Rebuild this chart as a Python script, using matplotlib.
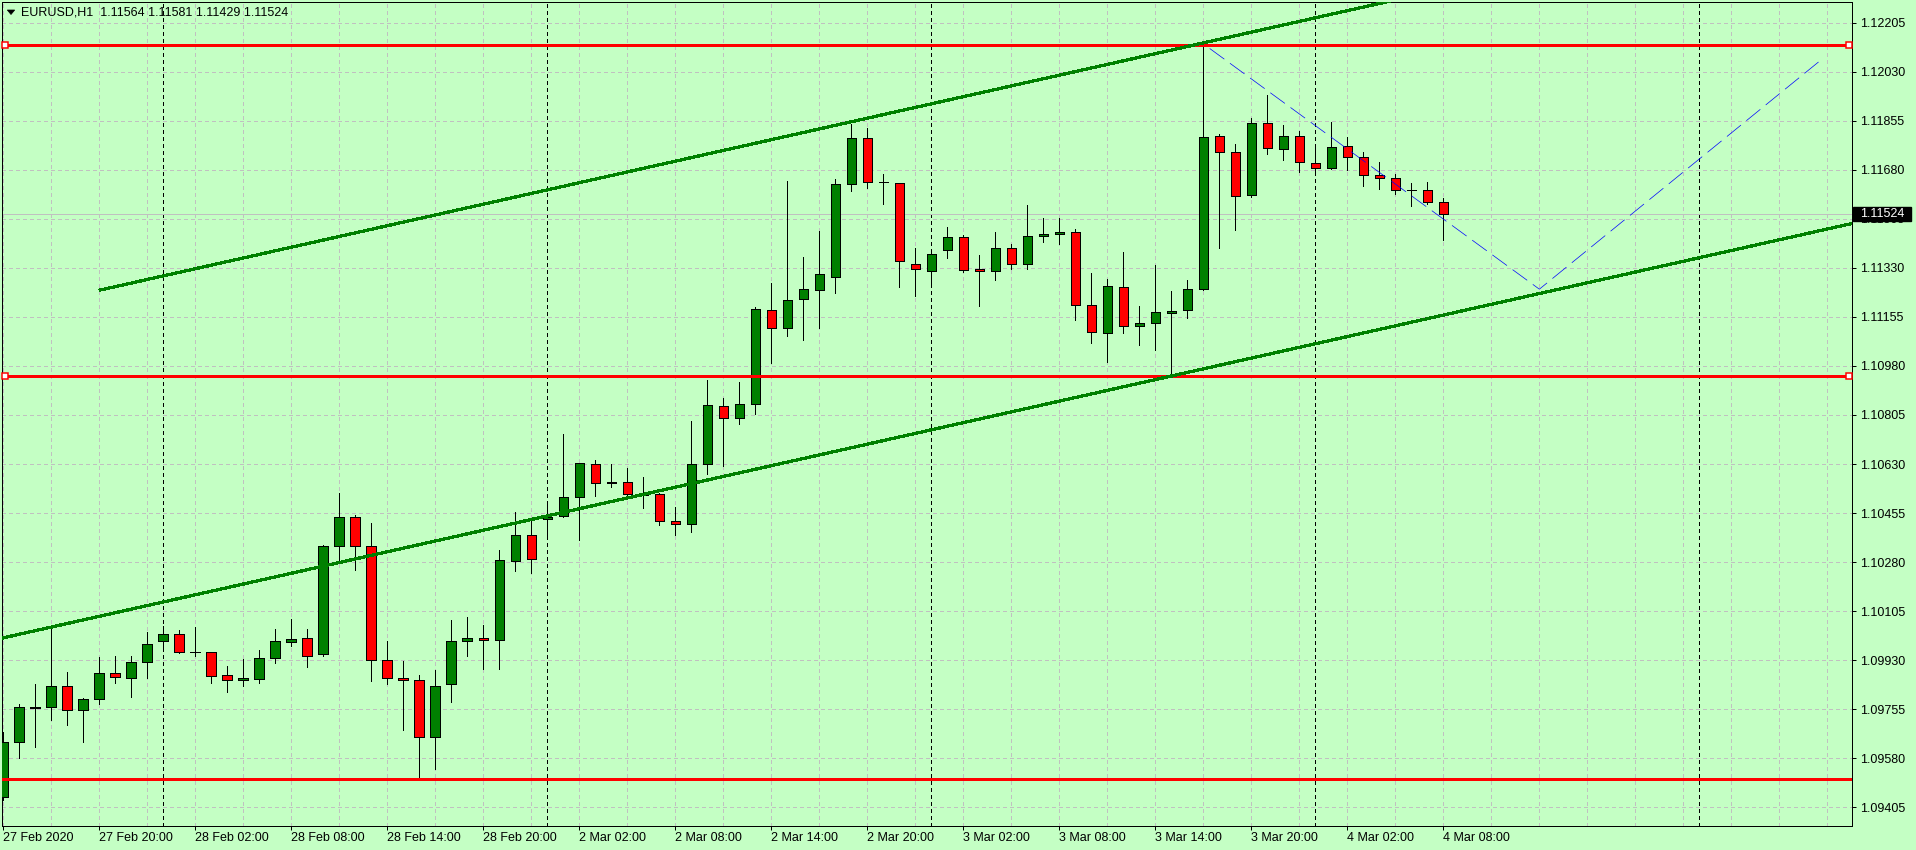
import matplotlib
matplotlib.use("Agg")
import matplotlib.pyplot as plt
from matplotlib.patches import Rectangle, Polygon
from matplotlib.transforms import blended_transform_factory

# ------------------------------------------------------------
# data: EURUSD H1, 27 Feb 2020 14:00 .. 4 Mar 2020 08:00
# ------------------------------------------------------------
symbol = "EURUSD,H1"

opens = [
    1.09443, 1.09639, 1.09760, 1.09762, 1.09837, 1.09751, 1.09790, 1.09883, 1.09868, 1.09923,
    1.09998, 1.10023, 1.09958, 1.09958, 1.09876, 1.09858, 1.09864, 1.09936, 1.09993, 1.10008,
    1.09951, 1.10336, 1.10440, 1.10336, 1.09930, 1.09866, 1.09859, 1.09655, 1.09844, 1.09998,
    1.10008, 1.10001, 1.10283, 1.10376, 1.10432, 1.10444, 1.10511, 1.10629, 1.10561, 1.10565,
    1.10522, 1.10522, 1.10428, 1.10415, 1.10629, 1.10837, 1.10793, 1.10843, 1.11179, 1.11117,
    1.11218, 1.11251, 1.11297, 1.11628, 1.11792, 1.11635, 1.11632, 1.11343, 1.11318, 1.11393,
    1.11439, 1.11326, 1.11318, 1.11400, 1.11343, 1.11443, 1.11450, 1.11457, 1.11197, 1.11097,
    1.11261, 1.11122, 1.11132, 1.11168, 1.11179, 1.11254, 1.11800, 1.11743, 1.11589, 1.11846,
    1.11753, 1.11800, 1.11703, 1.11685, 1.11764, 1.11725, 1.11660, 1.11650, 1.11607, 1.11607,
    1.11564,
]
highs = [
    1.09675, 1.09774, 1.09844, 1.10056, 1.09888, 1.09794, 1.09940, 1.09945, 1.09945, 1.10030,
    1.10051, 1.10038, 1.10049, 1.09960, 1.09909, 1.09934, 1.09966, 1.10041, 1.10077, 1.10041,
    1.10340, 1.10526, 1.10448, 1.10419, 1.09999, 1.09927, 1.09877, 1.09895, 1.10074, 1.10084,
    1.10056, 1.10323, 1.10458, 1.10430, 1.10483, 1.10737, 1.10635, 1.10645, 1.10629, 1.10616,
    1.10583, 1.10525, 1.10477, 1.10783, 1.10930, 1.10865, 1.10922, 1.11192, 1.11275, 1.11639,
    1.11369, 1.11462, 1.11647, 1.11844, 1.11829, 1.11665, 1.11632, 1.11401, 1.11388, 1.11475,
    1.11447, 1.11376, 1.11458, 1.11415, 1.11554, 1.11508, 1.11508, 1.11469, 1.11311, 1.11290,
    1.11386, 1.11194, 1.11339, 1.11246, 1.11286, 1.12131, 1.11807, 1.11771, 1.11864, 1.11946,
    1.11839, 1.11817, 1.11771, 1.11852, 1.11797, 1.11743, 1.11707, 1.11664, 1.11632, 1.11635,
    1.11581,
]
lows = [
    1.09431, 1.09582, 1.09621, 1.09717, 1.09699, 1.09639, 1.09774, 1.09850, 1.09800, 1.09868,
    1.09978, 1.09955, 1.09943, 1.09850, 1.09818, 1.09836, 1.09850, 1.09918, 1.09982, 1.09907,
    1.09946, 1.10284, 1.10252, 1.09857, 1.09845, 1.09681, 1.09503, 1.09542, 1.09782, 1.09946,
    1.09899, 1.09900, 1.10249, 1.10240, 1.10364, 1.10440, 1.10357, 1.10517, 1.10547, 1.10508,
    1.10474, 1.10414, 1.10378, 1.10389, 1.10596, 1.10624, 1.10772, 1.10808, 1.10992, 1.11088,
    1.11074, 1.11116, 1.11242, 1.11605, 1.11616, 1.11559, 1.11263, 1.11231, 1.11263, 1.11366,
    1.11316, 1.11195, 1.11286, 1.11327, 1.11325, 1.11421, 1.11416, 1.11145, 1.11063, 1.10995,
    1.11097, 1.11056, 1.11038, 1.10944, 1.11150, 1.11250, 1.11402, 1.11466, 1.11582, 1.11738,
    1.11714, 1.11671, 1.11671, 1.11684, 1.11680, 1.11621, 1.11611, 1.11593, 1.11550, 1.11559,
    1.11429,
]
closes = [
    1.09639, 1.09762, 1.09762, 1.09837, 1.09751, 1.09790, 1.09883, 1.09869, 1.09923, 1.09987,
    1.10023, 1.09958, 1.09959, 1.09873, 1.09858, 1.09865, 1.09937, 1.09998, 1.10005, 1.09946,
    1.10336, 1.10440, 1.10336, 1.09930, 1.09866, 1.09859, 1.09657, 1.09837, 1.09998, 1.10008,
    1.10001, 1.10287, 1.10376, 1.10290, 1.10440, 1.10511, 1.10633, 1.10561, 1.10565, 1.10522,
    1.10519, 1.10428, 1.10415, 1.10629, 1.10839, 1.10793, 1.10843, 1.11182, 1.11117, 1.11214,
    1.11254, 1.11307, 1.11628, 1.11792, 1.11635, 1.11637, 1.11354, 1.11325, 1.11379, 1.11439,
    1.11321, 1.11318, 1.11400, 1.11343, 1.11443, 1.11450, 1.11457, 1.11197, 1.11100, 1.11264,
    1.11122, 1.11132, 1.11172, 1.11176, 1.11254, 1.11796, 1.11743, 1.11586, 1.11846, 1.11757,
    1.11800, 1.11707, 1.11685, 1.11760, 1.11725, 1.11660, 1.11650, 1.11607, 1.11607, 1.11564,
    1.11524,
]

x_tick_bars = [0, 6, 12, 18, 24, 30, 36, 42, 48, 54, 60, 66, 72, 78, 84, 90]
x_tick_labels = [
    "27 Feb 2020", "27 Feb 20:00", "28 Feb 02:00", "28 Feb 08:00", "28 Feb 14:00",
    "28 Feb 20:00", "2 Mar 02:00", "2 Mar 08:00", "2 Mar 14:00", "2 Mar 20:00",
    "3 Mar 02:00", "3 Mar 08:00", "3 Mar 14:00", "3 Mar 20:00", "4 Mar 02:00",
    "4 Mar 08:00",
]
y_tick_values = [
    1.09405, 1.09580, 1.09755, 1.09930, 1.10105, 1.10280, 1.10455, 1.10630, 1.10805,
    1.10980, 1.11155, 1.11330, 1.11505, 1.11680, 1.11855, 1.12030, 1.12205,
]
day_separator_bars = [10, 34, 58, 82, 106]

# chart objects
level_prices = [1.12125, 1.10945, 1.09504]
level_selected = [True, True, False]
upper_channel_bars = [6.06, 75.0]
upper_channel_prices = [1.11251, 1.12133]
lower_channel_bars = [73.0, 115.5]
lower_channel_prices = [1.10944, 1.11488]
forecast_bars = [75.4, 96.0, 113.6]
forecast_prices = [1.12113, 1.11254, 1.12072]

# ------------------------------------------------------------
# style
# ------------------------------------------------------------
BG = "#C4FFC4"
BULL = "#008000"
BEAR = "#FF0000"
GRID = "#C0C0C0"
PX = 0.72  # one pixel in points at dpi 100

plt.rcParams["font.family"] = ["Liberation Sans", "DejaVu Sans"]

W, H = 1916, 850
fig = plt.figure(figsize=(W / 100, H / 100), dpi=100, facecolor=BG)
ax = fig.add_axes([2 / W, 1 - 826 / H, 1850 / W, 824 / H])
ax.set_facecolor(BG)
ax.set_xlim(-0.08, 115.54)
ax.set_ylim(1.09338, 1.12279)

# grid
for b in range(0, 116, 3):
    ax.axvline(b, color=GRID, lw=PX, ls=(0, (4, 3)), zorder=0.5, antialiased=False)
for v in y_tick_values:
    ax.axhline(v, color=GRID, lw=PX, ls=(0, (4, 3)), zorder=0.5, antialiased=False)

# day separators
for b in day_separator_bars:
    ax.axvline(b, color="black", lw=PX, ls=(0, (3, 3)), zorder=1, antialiased=False)

# bid line
bid = closes[-1]
ax.axhline(bid, color=GRID, lw=PX, zorder=1.5, antialiased=False)

# candles
body_w = 0.6
ax.vlines(range(len(opens)), lows, highs, color="black", lw=PX, zorder=3,
          antialiased=False)
for i, (o, c) in enumerate(zip(opens, closes)):
    ax.add_patch(Rectangle(
        (i - body_w / 2, min(o, c)), body_w, abs(c - o),
        facecolor=BULL if c >= o else BEAR, edgecolor="black",
        linewidth=PX, zorder=4, antialiased=False,
    ))

# horizontal levels
for lv, sel in zip(level_prices, level_selected):
    ax.axhline(lv, color="red", lw=2.6 * PX, zorder=5, antialiased=False)
    if sel:
        ax.plot([0.09, 115.36], [lv, lv], "s", ms=4.4, mfc="white", mec="red",
                mew=1.5 * PX, zorder=6, clip_on=False)

# channel lines
slope_up = (upper_channel_prices[1] - upper_channel_prices[0]) / (
    upper_channel_bars[1] - upper_channel_bars[0])
ray_end = 130
ax.plot([upper_channel_bars[0], ray_end],
        [upper_channel_prices[0],
         upper_channel_prices[0] + slope_up * (ray_end - upper_channel_bars[0])],
        color=BULL, lw=2.2 * PX, zorder=5, antialiased=False)
ax.axline((lower_channel_bars[0], lower_channel_prices[0]),
          (lower_channel_bars[1], lower_channel_prices[1]),
          color=BULL, lw=2.2 * PX, zorder=5, antialiased=False)

# forecast path
ax.plot(forecast_bars, forecast_prices, color="#0000FF", lw=0.5,
        ls=(0, (26, 10)), zorder=6, antialiased=True)

# frame and axes
for sp in ax.spines.values():
    sp.set_color("black")
    sp.set_linewidth(PX)

ax.yaxis.tick_right()
ax.set_yticks(y_tick_values)
ax.set_yticklabels([f"{v:.5f}" for v in y_tick_values])
ax.tick_params(axis="y", direction="out", length=2.9, width=PX, pad=2.9,
               labelsize=9, colors="black")

ax.set_xticks(x_tick_bars)
ax.set_xticklabels(x_tick_labels)
ax.tick_params(axis="x", direction="out", length=2.9, width=PX, pad=1.5,
               labelsize=9, colors="black")
for t in ax.get_xticklabels():
    t.set_ha("left")

# current price tag on the price scale
trans = blended_transform_factory(ax.transAxes, ax.transData)
ax.add_patch(Rectangle((1 + 1 / 1850, bid - 0.00025), 58 / 1850, 0.0005,
                       transform=trans, facecolor="black", edgecolor="black",
                       clip_on=False, zorder=10))
ax.text(1 + 8 / 1850, bid, f"{bid:.5f}", transform=trans, color="white",
        va="center", ha="left", fontsize=9, zorder=11, clip_on=False)

# header
fig.add_artist(Polygon(
    [(7.3 / W, 1 - 10 / H), (14.7 / W, 1 - 10 / H), (11 / W, 1 - 14.5 / H)],
    closed=True, transform=fig.transFigure, facecolor="black", edgecolor="black",
    linewidth=0.5))
fig.text(21 / W, 1 - 12.5 / H,
         f"{symbol}  {opens[-1]:.5f} {highs[-1]:.5f} {lows[-1]:.5f} {closes[-1]:.5f}",
         va="center", ha="left", fontsize=9, color="black")

fig.savefig("out.png", dpi=100, facecolor=BG)
